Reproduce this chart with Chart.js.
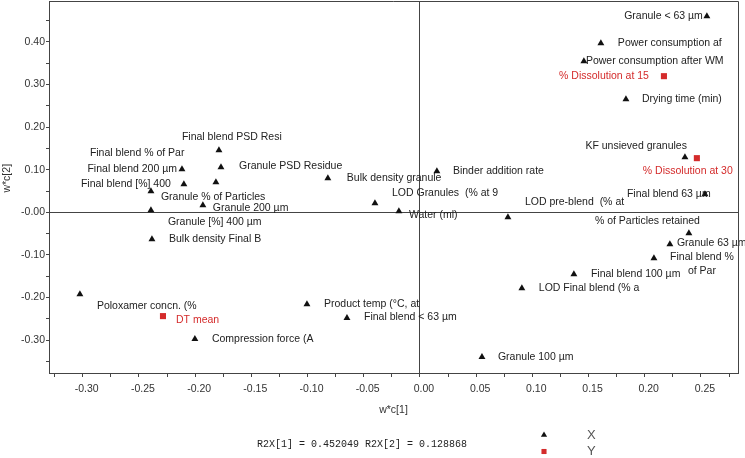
<!DOCTYPE html>
<html><head><meta charset="utf-8">
<script src="https://cdn.jsdelivr.net/npm/chart.js@4/dist/chart.umd.min.js"></script>
<style>html,body{margin:0;padding:0;background:#fff;overflow:hidden}#wrap{position:relative;width:745px;height:458px}</style>
</head><body><div id="wrap"><canvas id="c" width="745" height="458"></canvas></div>
<script>
// ---- data ----
const xVarNames = [
  'Granule < 63 µm','Power consumption af','Power consumption after WM','Drying time (min)',
  'KF unsieved granules','Final blend 63 µm','Binder addition rate','LOD Granules  (% at 9',
  'Water (ml)','Bulk density granule','LOD pre-blend  (% at','% of Particles retained',
  'Granule 63 µm','Final blend %\nof Par','Final blend 100 µm','LOD Final blend (% a',
  'Granule 100 µm','Product temp (°C, at','Final blend < 63 µm','Compression force (A',
  'Poloxamer concn. (%','Final blend 200 µm','Final blend PSD Resi','Final blend % of Par',
  'Final blend [%] 400','Granule % of Particles','Granule 200 µm','Granule [%] 400 µm',
  'Bulk density Final B','Granule PSD Residue'
];
const xVarC1 = [0.2553,0.1610,0.1459,0.1833,0.2358,0.2536,0.0151,-0.0400,-0.0187,-0.0819,
  0.0783,0.2393,0.2224,0.2082,0.1370,0.0907,0.0552,-0.1005,-0.0649,-0.2002,
  -0.3025,-0.2117,-0.1788,-0.2100,-0.2393,-0.1815,-0.1931,-0.2393,-0.2384,-0.1770];
const xVarC2 = [0.4603,0.3970,0.3548,0.2656,0.1295,0.0427,0.0967,0.0216,0.0028,0.0802,
  -0.0113,-0.0488,-0.0746,-0.1075,-0.1450,-0.1779,-0.3397,-0.2154,-0.2482,-0.2975,
  -0.1919,0.1014,0.1459,0.0662,0.0497,0.0709,0.0169,0.0052,-0.0629,0.1061];

const yVarNames = ['% Dissolution at 15','% Dissolution at 30','DT mean'];
const yVarC1 = [0.2171,0.2464,-0.2286];
const yVarC2 = [0.3196,0.1272,-0.2435];

const seriesNames = ['X','Y'];
const xTickLabels = ['-0.30','-0.25','-0.20','-0.15','-0.10','-0.05','0.00','0.05','0.10','0.15','0.20','0.25'];
const yTickLabels = ['0.40','0.30','0.20','0.10','-0.00','-0.10','-0.20','-0.30'];
const xTitle = 'w*c[1]';
const yTitle = 'w*c[2]';
const footerText = 'R2X[1] = 0.452049 R2X[2] = 0.128868';

// ---- label placement (layout only: pixel offsets from marker, alignment) ----
const xLabelPlace = [
  [-4,0,'right'],[17,0,'left'],[2,0,'left'],[16,0,'left'],
  [2,-11,'right'],[-78,0,'left'],[16,0,'left'],[17,-10,'left'],
  [10,4,'left'],[19,0,'left'],[17,-15,'left'],[-94,-12,'left'],
  [7,-1,'left'],[48,-1,'center'],[17,0,'left'],[17,0,'left'],
  [16,0,'left'],[17,0,'left'],[17,-1,'left'],[17,0,'left'],
  [17,12,'left'],[-5,0,'right'],[-37,-13,'left'],[-94,-31,'left'],
  [-70,-7,'left'],[-55,15,'left'],[10,3,'left'],[17,12,'left'],
  [17,0,'left'],[18,-1,'left']
];
const yLabelPlace = [[-15,0,'right'],[-54,13,'left'],[13,4,'left']];

const FONT = "'Liberation Sans', Arial, sans-serif";
const RED = '#d42b2b';
const INK = '#222';
const AXIS = '#444';

function buildTicks(labels, min, max) {
  const major = labels.map(Number).sort((a,b)=>a-b);
  const step = major[1]-major[0];
  const vals = [];
  if (major[0]-step/2 >= min) vals.push(major[0]-step/2);
  major.forEach((v,i)=>{ vals.push(v); if (i<major.length-1) vals.push((v+major[i+1])/2); });
  if (major[major.length-1]+step/2 <= max) vals.push(major[major.length-1]+step/2);
  return vals.map(v=>({value:v}));
}
function labelFor(labels, value) {
  const l = labels.find(s => Math.abs(Number(s)-value) < 1e-9);
  return l === undefined ? '' : l;
}
function gridColor(c) { return (c.tick && Math.abs(c.tick.value) < 1e-9) ? AXIS : 'rgba(0,0,0,0)'; }

const pointLabels = {
  id: 'pointLabels',
  afterDatasetsDraw(chart) {
    const ctx = chart.ctx;
    ctx.save();
    ctx.font = '10.5px ' + FONT;
    ctx.textBaseline = 'middle';
    const sets = [[xVarNames, xLabelPlace, INK],[yVarNames, yLabelPlace, RED]];
    sets.forEach(([names, place, col], di) => {
      const meta = chart.getDatasetMeta(di);
      ctx.fillStyle = col;
      meta.data.forEach((pt, j) => {
        const [dx, dy, al] = place[j];
        ctx.textAlign = al;
        names[j].split('\n').forEach((line, k) => {
          ctx.fillText(line, pt.x + dx, pt.y + dy + k*14);
        });
      });
    });
    ctx.restore();
  }
};

const frameAndFooter = {
  id: 'frameAndFooter',
  afterDraw(chart) {
    const ctx = chart.ctx, a = chart.chartArea;
    ctx.save();
    ctx.strokeStyle = AXIS; ctx.lineWidth = 1;
    ctx.beginPath();
    ctx.moveTo(a.left, Math.round(a.top)+0.5); ctx.lineTo(Math.round(a.right)+0.5, Math.round(a.top)+0.5);
    ctx.lineTo(Math.round(a.right)+0.5, a.bottom);
    ctx.stroke();
    // footer text
    ctx.fillStyle = INK;
    ctx.font = "10px 'Liberation Mono', 'Courier New', monospace";
    ctx.textBaseline = 'middle'; ctx.textAlign = 'left';
    ctx.fillText(footerText, 257, 444);
    // legend
    const styles = [['triangle','#111'],['rect',RED]];
    seriesNames.forEach((n, i) => {
      const y = 435 + i*16.5;
      ctx.fillStyle = styles[i][1];
      Chart.helpers.drawPoint(ctx, {pointStyle: styles[i][0], radius: 3.6, borderWidth: 0, rotation: 0}, 544, y);
      ctx.fillStyle = '#555';
      ctx.font = '13px ' + FONT;
      ctx.fillText(n, 587, y);
    });
    ctx.restore();
  }
};

new Chart(document.getElementById('c'), {
  type: 'scatter',
  data: {
    datasets: [
      { label: seriesNames[0], data: xVarC1.map((v,i)=>({x:v, y:xVarC2[i]})),
        pointStyle: 'triangle', pointRadius: 4, pointHoverRadius: 4,
        backgroundColor: '#111', borderColor: '#111', borderWidth: 0 },
      { label: seriesNames[1], data: yVarC1.map((v,i)=>({x:v, y:yVarC2[i]})),
        pointStyle: 'rect', pointRadius: 4.3, pointHoverRadius: 4.3,
        backgroundColor: RED, borderColor: RED, borderWidth: 0 }
    ]
  },
  options: {
    responsive: false, animation: false, devicePixelRatio: 1,
    layout: { autoPadding: false, padding: { top: 1, right: 7, bottom: 42, left: 0 } },
    plugins: { legend: { display: false }, tooltip: { enabled: false } },
    scales: {
      x: {
        type: 'linear', position: 'bottom', min: -0.330, max: 0.283,
        afterBuildTicks: s => { s.ticks = buildTicks(xTickLabels, s.min, s.max); },
        afterFit: s => { s.height = 43; s.paddingLeft = 0; s.paddingRight = 0; },
        ticks: { autoSkip: false, maxRotation: 0, padding: 6, labelOffset: 4, color: '#333',
          font: { family: FONT, size: 10.5 },
          callback: v => labelFor(xTickLabels, v) },
        grid: { color: gridColor, tickColor: AXIS, tickLength: 4, lineWidth: 1 },
        border: { color: AXIS, width: 1 },
        title: { display: true, text: xTitle, color: '#333', font: { family: FONT, size: 10.5 }, padding: { top: 0, bottom: 0 } }
      },
      y: {
        type: 'linear', position: 'left', min: -0.377, max: 0.496,
        afterBuildTicks: s => { s.ticks = buildTicks(yTickLabels, s.min, s.max); },
        afterFit: s => { s.width = 49; s.paddingTop = 0; s.paddingBottom = 0; },
        ticks: { autoSkip: false, padding: 1, color: '#333',
          font: { family: FONT, size: 10.5 },
          callback: v => labelFor(yTickLabels, v) },
        grid: { color: gridColor, tickColor: AXIS, tickLength: 3, lineWidth: 1 },
        border: { color: AXIS, width: 1 },
        title: { display: true, text: '      ' + yTitle, color: '#333', font: { family: FONT, size: 10.5 }, padding: { top: 1, bottom: 0 } }
      }
    }
  },
  plugins: [pointLabels, frameAndFooter]
});
</script></body></html>
